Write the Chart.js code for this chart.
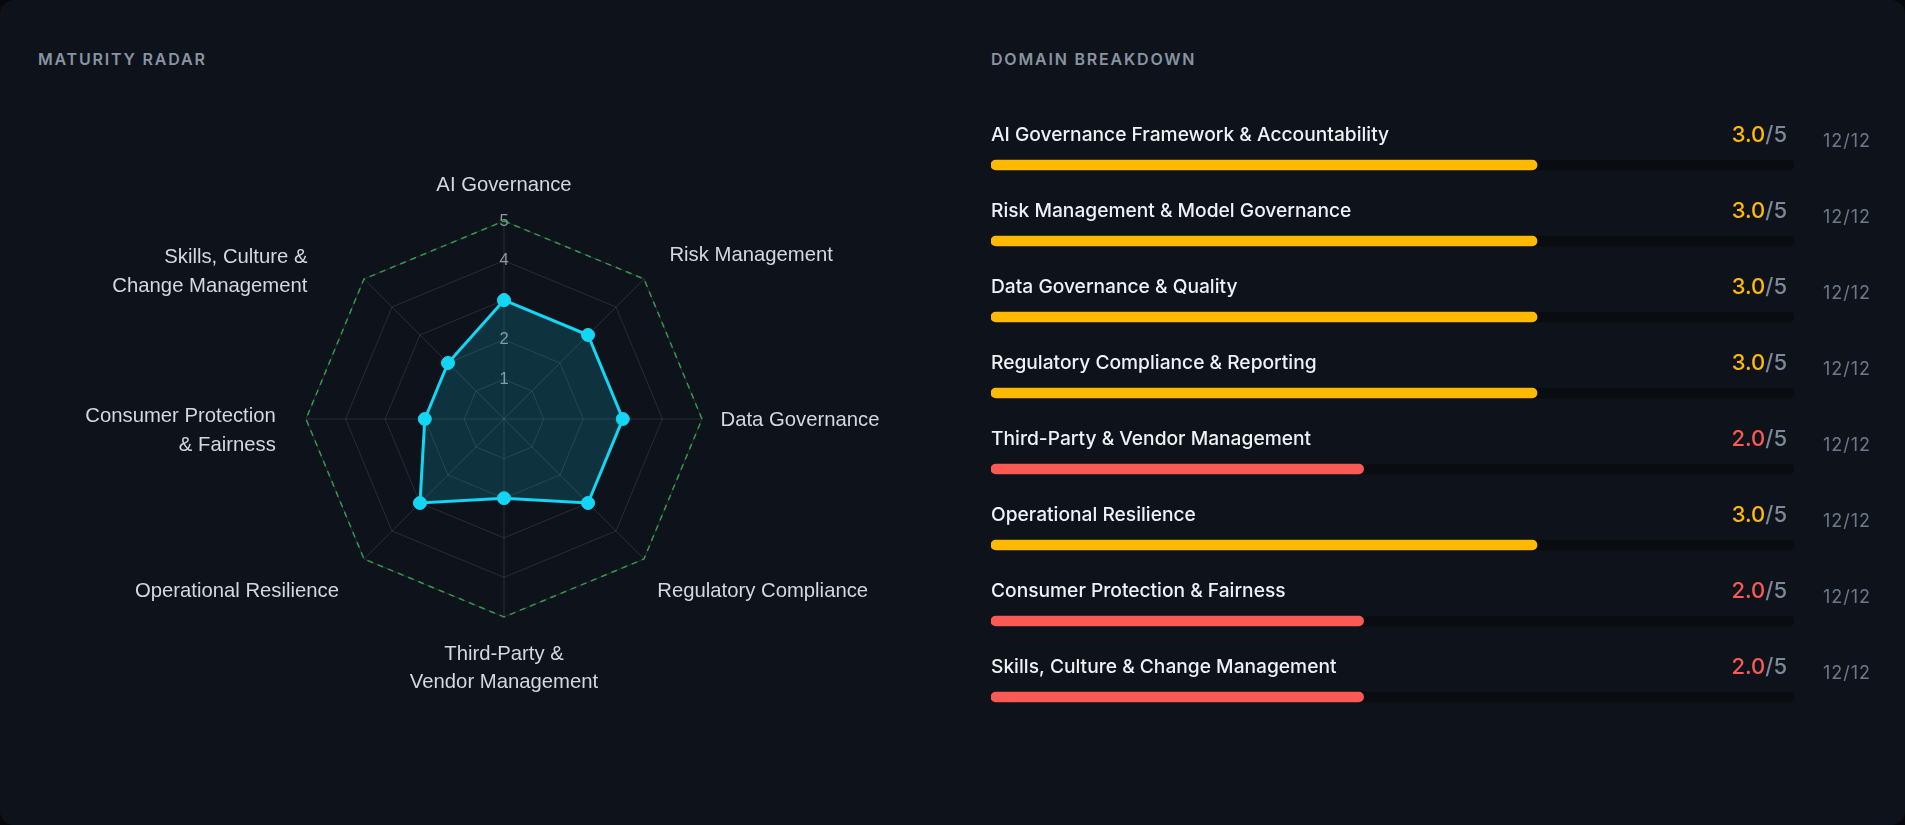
<!DOCTYPE html>
<html>
<head>
<meta charset="utf-8">
<script src="https://cdn.jsdelivr.net/npm/chart.js@4.4.1/dist/chart.umd.min.js"></script>
<style>
  html, body { margin: 0; padding: 0; background: #06080c; overflow: hidden; }
  #card { position: relative; width: 1905px; height: 825px; background: #0e131b; border-radius: 14px; overflow: hidden; }
  .hdr { position: absolute; top: 49px; font-family: Inter, "Noto Sans", sans-serif; font-size: 16px; font-weight: 600;
         letter-spacing: 1.8px; color: #8a93a3; line-height: 20px; white-space: nowrap; }
  #radarWrap { position: absolute; left: 0; top: 0; width: 990px; height: 825px; }
  #barWrap { position: absolute; left: 991px; top: 0; width: 914px; height: 825px; }
</style>
</head>
<body>
<div id="card">
  <div class="hdr" style="left:38px">MATURITY RADAR</div>
  <div class="hdr" style="left:991px">DOMAIN BREAKDOWN</div>
  <div id="radarWrap"><canvas id="radar" width="990" height="825"></canvas></div>
  <div id="barWrap"><canvas id="bars" width="914" height="825"></canvas></div>
</div>
<script>
// ---------- data ----------
const radarLabels = [
  'AI Governance',
  'Risk Management',
  'Data Governance',
  'Regulatory Compliance',
  ['Third-Party &', 'Vendor Management'],
  'Operational Resilience',
  ['Consumer Protection', '& Fairness'],
  ['Skills, Culture &', 'Change Management']
];
const radarScores = [3, 3, 3, 3, 2, 3, 2, 2];
const targetScores = [5, 5, 5, 5, 5, 5, 5, 5];
const scaleMax = 5;

const domainNames = [
  'AI Governance Framework & Accountability',
  'Risk Management & Model Governance',
  'Data Governance & Quality',
  'Regulatory Compliance & Reporting',
  'Third-Party & Vendor Management',
  'Operational Resilience',
  'Consumer Protection & Fairness',
  'Skills, Culture & Change Management'
];
const domainScores = [3.0, 3.0, 3.0, 3.0, 2.0, 3.0, 2.0, 2.0];
const domainFillPct = [68, 68, 68, 68, 46.4, 68, 46.4, 46.4];
const answeredCounts = [12, 12, 12, 12, 12, 12, 12, 12];
const questionCounts = [12, 12, 12, 12, 12, 12, 12, 12];

// ---------- styles ----------
const CYAN = '#12d6f4';
const AMBER = '#ffb900';
const RED = '#fa5a53';
const scoreColor = v => (v >= 3 ? AMBER : RED);

// label placement: radial padding beyond the outer ring (horizontal, vertical) and extra vertical nudge
const labelPadX = [0, 36, 18.5, 18.8, 0, 35.4, 30.2, 80];
const labelPadY = [35.3, 33.1, 0, 45.7, 37.2, 45.3, 0, 29.9];
const labelDy   = [0, 0, 1.8, 0, 0, 0, -2.5, 0];

const radarLabelPlugin = {
  id: 'radarLabels',
  afterDraw(chart) {
    const s = chart.scales.r, ctx = chart.ctx;
    const LH = 28.5;
    ctx.save();
    ctx.font = '20.3px "Liberation Sans", Arial, sans-serif';
    ctx.fillStyle = '#d4d8de';
    ctx.textBaseline = 'middle';
    const n = chart.data.labels.length;
    chart.data.labels.forEach((lab, i) => {
      const lines = Array.isArray(lab) ? lab : [lab];
      const deg = Math.round(i * 360 / n);
      const px = s.getPointPosition(i, s.drawingArea + labelPadX[i]);
      const py = s.getPointPosition(i, s.drawingArea + labelPadY[i]);
      ctx.textAlign = (deg === 0 || deg === 180) ? 'center' : (deg < 180 ? 'left' : 'right');
      let y0 = py.y + labelDy[i];
      if (deg === 0) y0 -= (lines.length - 1) * LH;
      lines.forEach((t, k) => ctx.fillText(t, px.x, y0 + k * LH));
    });
    ctx.restore();
  }
};

new Chart(document.getElementById('radar'), {
  type: 'radar',
  data: {
    labels: radarLabels,
    datasets: [
      { label: 'Target', data: targetScores, borderColor: 'rgba(52,168,74,0.9)', borderDash: [6, 5],
        borderWidth: 1.5, pointRadius: 0, fill: false, clip: false, order: 2 },
      { label: 'Maturity', data: radarScores, borderColor: CYAN, backgroundColor: 'rgba(18,214,244,0.17)',
        borderWidth: 3, pointRadius: 6.5, pointBackgroundColor: CYAN, pointBorderColor: CYAN, pointBorderWidth: 1,
        fill: 'origin', clip: false, order: 1 }
    ]
  },
  options: {
    responsive: false, animation: false, events: [],
    layout: { padding: { left: 298, right: 279, top: 213, bottom: 199 } },
    plugins: { legend: { display: false }, tooltip: { enabled: false } },
    scales: {
      r: {
        min: 0, max: scaleMax,
        ticks: { stepSize: 1, color: '#8f97a3', showLabelBackdrop: false, backdropPadding: 0,
                 font: { family: '"Liberation Sans", Arial, sans-serif', size: 16.5 } },
        grid: { color: 'rgba(255,255,255,0.11)', lineWidth: 1 },
        angleLines: { color: 'rgba(255,255,255,0.11)', lineWidth: 1 },
        pointLabels: { display: false }
      }
    }
  },
  plugins: [radarLabelPlugin]
});

const rowTextPlugin = {
  id: 'rowText',
  afterDatasetsDraw(chart) {
    const ctx = chart.ctx, area = chart.chartArea;
    const meta = chart.getDatasetMeta(1);
    ctx.save();
    meta.data.forEach((bar, i) => {
      const y = bar.y;
      ctx.textBaseline = 'alphabetic';
      ctx.textAlign = 'left';
      ctx.letterSpacing = '0px';
      ctx.font = '500 19.2px Inter, "Noto Sans", sans-serif';
      ctx.fillStyle = '#eef1f5';
      ctx.fillText(domainNames[i], area.left, y - 24);

      ctx.font = '500 22px Inter, "Noto Sans", sans-serif';
      const suffix = '/' + scaleMax;
      const right = area.right - 7;
      ctx.textAlign = 'right';
      ctx.fillStyle = '#7e8898';
      ctx.fillText(suffix, right, y - 23.5);
      const w = ctx.measureText(suffix).width;
      ctx.fillStyle = scoreColor(domainScores[i]);
      ctx.fillText(domainScores[i].toFixed(1), right - w, y - 23.5);

      ctx.textAlign = 'left';
      ctx.font = '400 18px Inter, "Noto Sans", sans-serif';
      ctx.letterSpacing = '1px';
      ctx.fillStyle = '#6f7888';
      ctx.fillText(answeredCounts[i] + '/' + questionCounts[i], area.right + 29, y - 18);
    });
    ctx.restore();
  }
};

new Chart(document.getElementById('bars'), {
  type: 'bar',
  data: {
    labels: domainNames,
    datasets: [
      { label: 'track', data: domainNames.map(() => 100), backgroundColor: '#090c11',
        borderRadius: 5, borderSkipped: false, barThickness: 10, grouped: false, order: 2 },
      { label: 'score', data: domainFillPct, backgroundColor: domainScores.map(scoreColor),
        borderRadius: 5, borderSkipped: false, barThickness: 10, grouped: false, order: 1 }
    ]
  },
  options: {
    indexAxis: 'y', responsive: false, animation: false, events: [],
    layout: { padding: { left: 0, right: 111, top: 127, bottom: 90 } },
    plugins: { legend: { display: false }, tooltip: { enabled: false } },
    scales: { x: { min: 0, max: 100, display: false }, y: { display: false } }
  },
  plugins: [rowTextPlugin]
});
</script>
</body>
</html>
